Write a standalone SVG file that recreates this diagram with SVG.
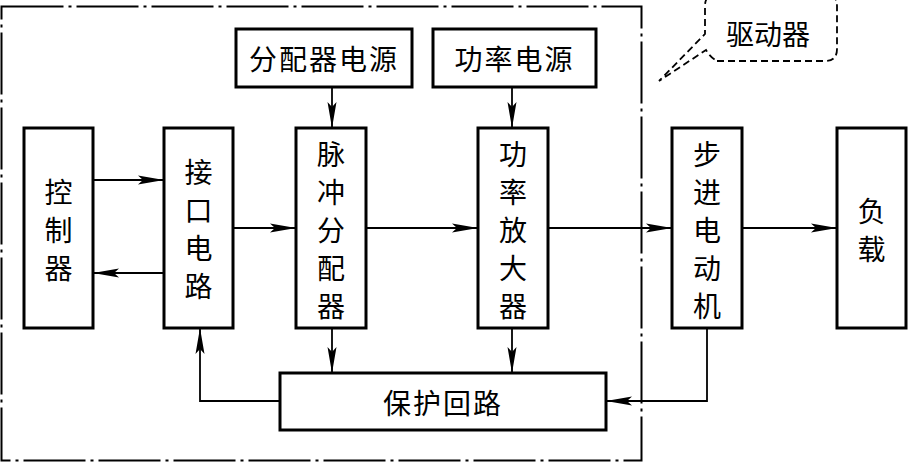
<svg xmlns="http://www.w3.org/2000/svg" width="908" height="462" viewBox="0 0 908 462">
<style>
.box{fill:#fff;stroke:#000;stroke-width:3}
.t{font-family:"Noto Sans CJK SC","Noto Sans CJK JP",sans-serif;font-size:28px;fill:#000;text-anchor:middle;dominant-baseline:central}
.ln{fill:none;stroke:#000;stroke-width:1.8}
.frame{fill:none;stroke:#000;stroke-width:2;stroke-dasharray:62 5 3 5}
.bub{fill:#fff;stroke:#000;stroke-width:1.8;stroke-dasharray:7 4}
</style>
<defs>
<marker id="ah" viewBox="0 0 26 10" refX="26" refY="5" markerWidth="26" markerHeight="10" markerUnits="userSpaceOnUse" orient="auto">
<path d="M0,0.5 L26,5 L0,9.5 L5,5 z" fill="#000"/>
</marker>
</defs>
<rect width="908" height="462" fill="#fff"/>
<rect class="frame" x="1.5" y="6.5" width="640" height="454"/>
<g id="callout">
<path class="bub" d="M717,61 H825 Q837,61 837,49 V6 Q837,-6 825,-6 H717 Q705,-6 705,6 V34 L659,81 L706,50 Q710,57 717,61 Z"/>
<text class="t" x="768" y="33">驱动器</text>
</g>
<g id="connectors">
<path class="ln" d="M93,180 H164" marker-end="url(#ah)"/>
<path class="ln" d="M164,273 H93" marker-end="url(#ah)"/>
<path class="ln" d="M233,228 H296" marker-end="url(#ah)"/>
<path class="ln" d="M366,228 H478" marker-end="url(#ah)"/>
<path class="ln" d="M548,228 H672" marker-end="url(#ah)"/>
<path class="ln" d="M742,228 H837" marker-end="url(#ah)"/>
<path class="ln" d="M332,87 V128" marker-end="url(#ah)"/>
<path class="ln" d="M512,87 V128" marker-end="url(#ah)"/>
<path class="ln" d="M332,328 V373" marker-end="url(#ah)"/>
<path class="ln" d="M512,328 V373" marker-end="url(#ah)"/>
<path class="ln" d="M280,401 H200 V328" marker-end="url(#ah)"/>
<path class="ln" d="M707,328 V401 H606" marker-end="url(#ah)"/>
</g>
<g id="controller">
<rect class="box" x="24" y="128" width="69" height="200"/>
<text class="t"><tspan x="58.5" y="191">控</tspan><tspan x="58.5" y="229">制</tspan><tspan x="58.5" y="267">器</tspan></text>
</g>
<g id="interface">
<rect class="box" x="164" y="128" width="69" height="200"/>
<text class="t"><tspan x="198.5" y="171">接</tspan><tspan x="198.5" y="209">口</tspan><tspan x="198.5" y="247">电</tspan><tspan x="198.5" y="285">路</tspan></text>
</g>
<g id="distributor">
<rect class="box" x="296" y="128" width="70" height="200"/>
<text class="t"><tspan x="331" y="153">脉</tspan><tspan x="331" y="191">冲</tspan><tspan x="331" y="229">分</tspan><tspan x="331" y="267">配</tspan><tspan x="331" y="305">器</tspan></text>
</g>
<g id="dist-power">
<rect class="box" x="236" y="29" width="176" height="58"/>
<text class="t" x="324" y="58" letter-spacing="2">分配器电源</text>
</g>
<g id="power-supply">
<rect class="box" x="433" y="29" width="163" height="58"/>
<text class="t" x="514.5" y="58" letter-spacing="2">功率电源</text>
</g>
<g id="amplifier">
<rect class="box" x="478" y="128" width="70" height="200"/>
<text class="t"><tspan x="513" y="153">功</tspan><tspan x="513" y="191">率</tspan><tspan x="513" y="229">放</tspan><tspan x="513" y="267">大</tspan><tspan x="513" y="305">器</tspan></text>
</g>
<g id="motor">
<rect class="box" x="672" y="128" width="70" height="200"/>
<text class="t"><tspan x="707" y="153">步</tspan><tspan x="707" y="191">进</tspan><tspan x="707" y="229">电</tspan><tspan x="707" y="267">动</tspan><tspan x="707" y="305">机</tspan></text>
</g>
<g id="load">
<rect class="box" x="837" y="128" width="69" height="200"/>
<text class="t"><tspan x="871.5" y="210">负</tspan><tspan x="871.5" y="248">载</tspan></text>
</g>
<g id="protection">
<rect class="box" x="280" y="373" width="326" height="57"/>
<text class="t" x="443" y="402" letter-spacing="2">保护回路</text>
</g>
</svg>
